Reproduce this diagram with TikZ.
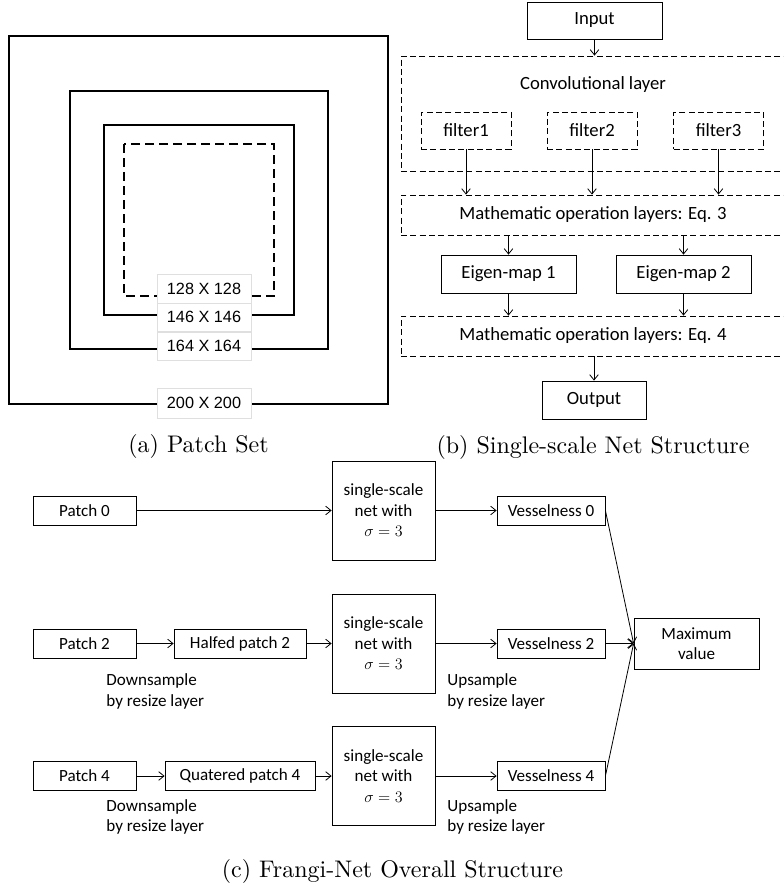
\documentclass[tikz,border=0pt]{standalone}
\usepackage{fontspec}
\usepackage{graphicx}
\newfontfamily\calfont{Carlito}
\newfontfamily\arialfont{Liberation Sans}
\usetikzlibrary{arrows.meta}

\tikzset{
  sz/.style 2 args={minimum width=#1*0.75pt, minimum height=#2*0.75pt},
  blk/.style={draw, line width=0.6pt, inner sep=0pt,
    font=\calfont\fontsize{14}{16}\selectfont},
  dblk/.style={blk, dash pattern=on 4.5pt off 2.5pt},
  cblk/.style={draw, line width=0.6pt, inner sep=0pt, align=center,
    font=\calfont\fontsize{12.8}{15.4}\selectfont},
  note/.style={anchor=west, align=left, inner sep=0pt,
    font=\calfont\fontsize{12.8}{15.4}\selectfont},
  sq/.style={draw, line width=2.2pt},
  dimlbl/.style={draw=gray!25, fill=white, line width=0.4pt, inner sep=0pt,
    font=\arialfont\fontsize{12.2}{14}\selectfont},
  capt/.style={inner sep=0pt, font=\fontsize{10}{12}\selectfont}
}
\newcommand{\capttext}[1]{\scalebox{1.8}{#1}}

\begin{document}
\begin{tikzpicture}[x=0.75pt, y=-0.75pt, line width=0.6pt,
  >={Straight Barb[length=4pt,width=6.5pt]}]
\clip (0,0) rectangle (783,888);

\draw[sq] (9,36) rectangle (388,404);
\draw[sq] (70,91) rectangle (328,349);
\draw[sq] (104,125) rectangle (294,315);
\draw[line width=1.3pt, dash pattern=on 6.5pt off 4pt] (124,144) rectangle (274,296);
\node[dimlbl, sz={94}{29}] (d128) at (204,288.5) {128 X 128};
\node[dimlbl, sz={94}{28}] (d146) at (204,317) {146 X 146};
\node[dimlbl, sz={94}{28}] (d164) at (204,346) {164 X 164};
\node[dimlbl, sz={94}{30}] (d200) at (204,403) {200 X 200};
\node[capt] (capa) at (198.5,446) {\capttext{(a) Patch Set}};

\node[blk, sz={135}{37}] (input) at (594.5,20.5) {Input};
\node[dblk, sz={384}{115}] (conv) at (593,113.5) {};
\node[blk, draw=none] (convlbl) at (593,85) {Convolutional layer};
\node[dblk, sz={90}{37}] (f1) at (466,130.5) {filter1};
\node[dblk, sz={90}{37}] (f2) at (592,130.5) {filter2};
\node[dblk, sz={90}{37}] (f3) at (718.5,130.5) {filter3};
\node[dblk, sz={384}{40}] (math3) at (593,215) {Mathematic operation layers: Eq. 3};
\node[blk, sz={135}{38}] (eig1) at (508.5,274) {Eigen-map 1};
\node[blk, sz={135}{38}] (eig2) at (683.5,274) {Eigen-map 2};
\node[dblk, sz={384}{40}] (math4) at (593,336) {Mathematic operation layers: Eq. 4};
\node[blk, sz={104}{38}] (output) at (594,400) {Output};
\node[capt] (capb) at (593,447) {\capttext{(b) Single-scale Net Structure}};

\draw[->] (input.south) -- (input.south |- conv.north);
\foreach \f in {f1,f2,f3}
  \draw[->] (\f.south) -- (\f.south |- math3.north);
\foreach \e in {eig1,eig2} {
  \draw[->] (\e.north |- math3.south) -- (\e.north);
  \draw[->] (\e.south) -- (\e.south |- math4.north);
}
\draw[->] (output.north |- math4.south) -- (output.north);

\node[cblk, sz={103}{29}] (p0) at (84.5,510.5) {Patch 0};
\node[cblk, sz={103}{99}] (ssn0) at (383.5,510.5) {single-scale\\net with\\$\sigma = 3$};
\node[cblk, sz={108}{29}] (v0) at (551,510.5) {Vesselness 0};
\node[cblk, sz={103}{29}] (p2) at (84.5,643.5) {Patch 2};
\node[cblk, sz={132}{29}] (half) at (240,643.5) {Halfed patch 2};
\node[cblk, sz={103}{99}] (ssn2) at (383.5,643.5) {single-scale\\net with\\$\sigma = 3$};
\node[cblk, sz={108}{29}] (v2) at (551,643.5) {Vesselness 2};
\node[cblk, sz={125}{51}] (maxv) at (696.5,643.5) {Maximum\\value};
\node[cblk, sz={103}{29}] (p4) at (84.5,776) {Patch 4};
\node[cblk, sz={150}{29}] (quat) at (240,776) {Quatered patch 4};
\node[cblk, sz={103}{99}] (ssn4) at (383.5,776) {single-scale\\net with\\$\sigma = 3$};
\node[cblk, sz={108}{29}] (v4) at (551,776) {Vesselness 4};

\node[note] (down2) at (106,691.5) {Downsample\\by resize layer};
\node[note] (up2) at (447,691.5) {Upsample\\by resize layer};
\node[note] (down4) at (106,817) {Downsample\\by resize layer};
\node[note] (up4) at (447,817) {Upsample\\by resize layer};

\draw[->] (p0) -- (ssn0);
\draw[->] (ssn0) -- (v0);
\draw[->] (p2) -- (half);
\draw[->] (half) -- (ssn2);
\draw[->] (ssn2) -- (v2);
\draw[->] (p4) -- (quat);
\draw[->] (quat) -- (ssn4);
\draw[->] (ssn4) -- (v4);
\foreach \v in {v0,v2,v4}
  \draw[->] (\v.east) -- (maxv.west);
\node[capt] (capc) at (392.5,871) {\capttext{(c) Frangi-Net Overall Structure}};
\end{tikzpicture}
\end{document}
